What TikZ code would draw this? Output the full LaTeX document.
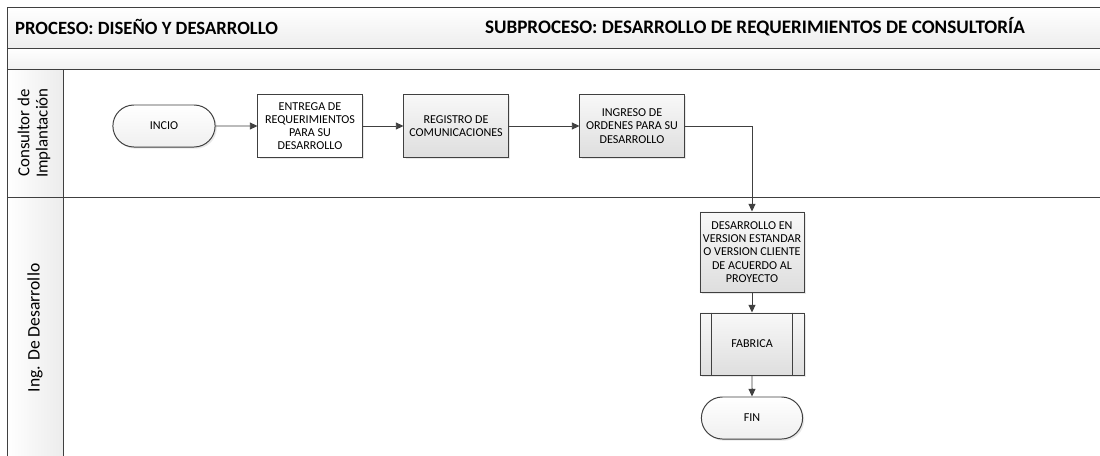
\documentclass[tikz,border=0pt]{standalone}
\usepackage{fontspec}
\setmainfont{Carlito}
\usetikzlibrary{arrows.meta,shapes.misc,shadows}
\definecolor{lineclr}{RGB}{64,64,64}
\definecolor{boxtop}{RGB}{248,248,248}
\definecolor{boxbot}{RGB}{222,222,222}

\begin{document}
\begin{tikzpicture}[x=0.025cm, y=-0.025cm,
    line width=0.7pt,
    box/.style={draw=lineclr, top color=boxtop, bottom color=boxbot,
        drop shadow={shadow xshift=1.2pt, shadow yshift=-1.2pt, fill=gray!35},
        minimum width=2.6cm, minimum height=1.575cm, align=center,
        inner sep=1pt, font=\fontsize{8.6}{9.4}\selectfont},
    whitebox/.style={box, top color=white, bottom color=white},
    terminal/.style={box, rounded rectangle, top color=white, bottom color=gray!12,
        minimum height=1.05cm},
    flow/.style={draw=lineclr, -{Triangle[length=5.5pt,width=5pt]}}]
    \clip (0,0) rectangle (1100,455);
    \fill[white] (0,0) rectangle (1100,455);
    % Header bands
    \shade[top color=white, bottom color=gray!14] (7,7) rectangle (1110,48);
    \shade[top color=white, bottom color=gray!10] (7,48) rectangle (1110,69);
    % Lane label column
    \shade[left color=white, right color=gray!15] (7,69) rectangle (63,470);
    % Frame lines
    \draw[lineclr] (1110,7) -- (7,7) -- (7,470);
    \draw[lineclr] (7,48) -- (1110,48);
    \draw[lineclr] (7,69) -- (1110,69);
    \draw[lineclr] (7,197) -- (1110,197);
    \draw[lineclr] (63,69) -- (63,470);
    % Titles
    \node[anchor=west, font=\bfseries\fontsize{13.3}{15}\selectfont] (proceso) at (10,27) {PROCESO: DISEÑO Y DESARROLLO};
    \node[anchor=east, font=\bfseries\fontsize{13.6}{15}\selectfont] (subproceso) at (1030,27) {SUBPROCESO: DESARROLLO DE REQUERIMIENTOS DE CONSULTORÍA};
    \node[rotate=90, align=center, font=\fontsize{12}{13}\selectfont] (lanecons) at (34,133) {Consultor de\\Implantación};
    \node[rotate=90, font=\fontsize{12.5}{13}\selectfont] (laneing) at (35,328) {Ing. De Desarrollo};
    % Steps
    \node[terminal, minimum width=2.625cm] (inicio) at (164,126) {INCIO};
    \node[whitebox] (entrega) at (310,126) {ENTREGA DE\\REQUERIMIENTOS\\PARA SU\\DESARROLLO};
    \node[box] (registro) at (456,126) {REGISTRO DE\\COMUNICACIONES};
    \node[box] (ingreso) at (632,126) {INGRESO DE\\ORDENES PARA SU\\DESARROLLO};
    \node[box, minimum height=2cm] (desarrollo) at (752,252) {DESARROLLO EN\\VERSION ESTANDAR\\O VERSION CLIENTE\\DE ACUERDO AL\\PROYECTO};
    \node[box, minimum height=1.55cm] (fabrica) at (752,344) {FABRICA};
    \draw[lineclr] ([xshift=0.3cm]fabrica.north west) -- ([xshift=0.3cm]fabrica.south west);
    \draw[lineclr] ([xshift=-0.3cm]fabrica.north east) -- ([xshift=-0.3cm]fabrica.south east);
    \node[terminal] (fin) at (752,418) {FIN};
    % Connectors
    \draw[flow] (inicio) -- (entrega);
    \draw[flow] (entrega) -- (registro);
    \draw[flow] (registro) -- (ingreso);
    \draw[flow] (ingreso.east) -| (desarrollo.north);
    \draw[flow] (desarrollo) -- (fabrica);
    \draw[flow] (fabrica) -- (fin);
\end{tikzpicture}
\end{document}
